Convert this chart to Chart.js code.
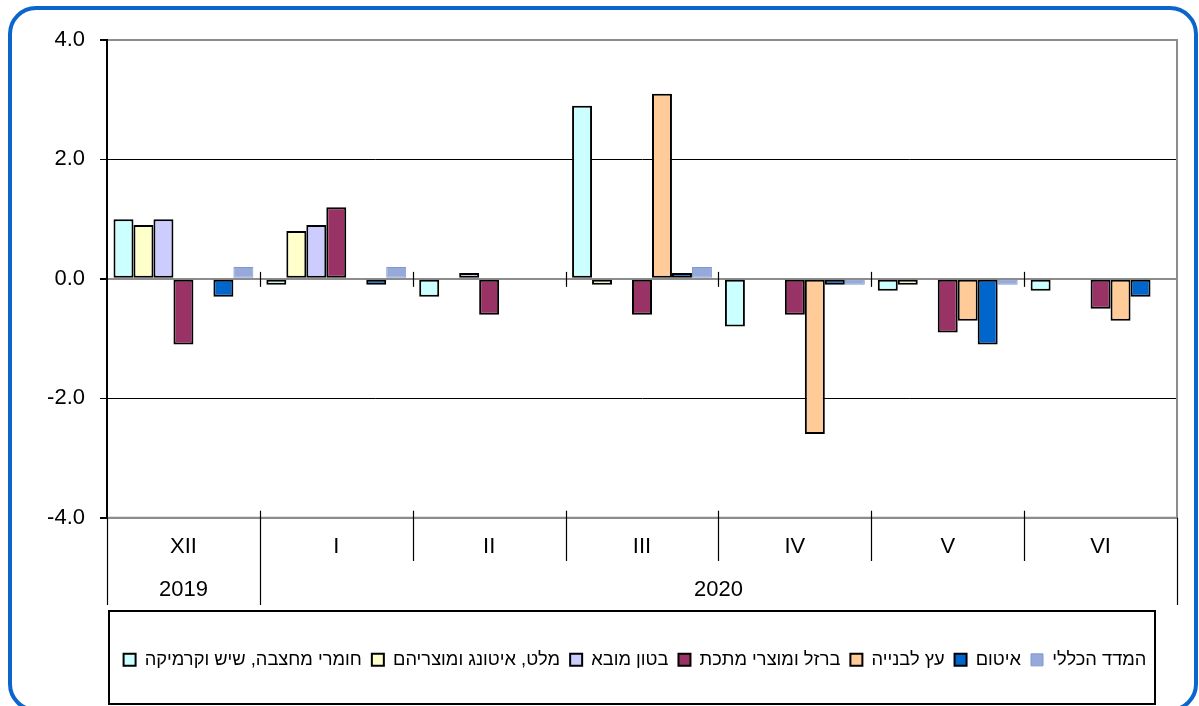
<!DOCTYPE html>
<html>
<head>
<meta charset="utf-8">
<script src="https://cdn.jsdelivr.net/npm/chart.js@4/dist/chart.umd.min.js"></script>
<style>
  html, body { margin: 0; padding: 0; background: #fff; }
  #wrap { width: 1199px; height: 706px; }
</style>
</head>
<body>
<div id="wrap"><canvas id="barChart" width="1199" height="706"></canvas></div>
<script>
// months and years on the category axis
const months = ["XII", "I", "II", "III", "IV", "V", "VI"];
const years = ["2019", "2020"];
const yearSpans = [1, 6];

const seriesNames = [
    "חומרי מחצבה, שיש וקרמיקה",
    "מלט, איטונג ומוצריהם",
    "בטון מובא",
    "ברזל ומוצרי מתכת",
    "עץ לבנייה",
    "איטום",
    "המדד הכללי"
];

// monthly change, percent
const quarry   = [1.0, -0.1, -0.3, 2.9, -0.8, -0.2, -0.2];
const cement   = [0.9, 0.8, 0, -0.1, 0, -0.1, 0];
const concrete = [1.0, 0.9, 0.1, 0, 0, 0, 0];
const iron     = [-1.1, 1.2, -0.6, -0.6, -0.6, -0.9, -0.5];
const wood     = [null, null, null, 3.1, -2.6, -0.7, -0.7];
const sealing  = [-0.3, -0.1, 0, 0.1, -0.1, -1.1, -0.3];
const general  = [0.2, 0.2, 0, 0.2, -0.1, -0.1, 0];

const yTicks = [-4, -2, 0, 2, 4];

const fills = ["#ccffff", "#ffffcc", "#ccccff", "#993366", "#ffcc99", "#0066cc", "#97a9d8"];
const values = [quarry, cement, concrete, iron, wood, sealing, general];

const FONT = "'Liberation Sans', Arial, sans-serif";

const datasets = values.map((v, i) => ({
    label: seriesNames[i],
    data: v,
    backgroundColor: fills[i],
    borderColor: i === 6 ? "#7b9ad3" : "#000000",
    borderWidth: i === 6 ? 1 : 2,
    borderSkipped: false,
    categoryPercentage: 0.915,
    barPercentage: 1.0
}));

// frame, separators, year row, legend box
const decor = {
    id: "decor",
    afterLayout(chart) {
        // centre the legend row under the plot like the original
        const lg = chart.legend;
        const d = 635 - (lg.left + lg.right) / 2;
        lg.left += d;
        lg.right += d;
    },
    beforeDraw(chart) {
        const c = chart.ctx;
        c.save();
        c.fillStyle = "#fff";
        c.fillRect(0, 0, chart.width, chart.height);
        c.strokeStyle = "#0a66cc";
        c.lineWidth = 4;
        c.beginPath();
        c.roundRect(10, 8, 1186, 702, 26);
        c.stroke();
        c.restore();
    },
    afterDatasetsDraw(chart) {
        const c = chart.ctx;
        const a = chart.chartArea;
        const y = chart.scales.y;
        const step = (a.right - a.left) / months.length;
        const y0 = y.getPixelForValue(0);
        c.save();
        // plot border
        c.strokeStyle = "#8c8c8c";
        c.lineWidth = 2;
        c.beginPath();
        c.moveTo(a.left, a.top);
        c.lineTo(a.right, a.top);
        c.lineTo(a.right, a.bottom);
        c.lineTo(a.left, a.bottom);
        c.stroke();
        // y axis line
        c.strokeStyle = "#000";
        c.beginPath();
        c.moveTo(a.left, a.top - 1);
        c.lineTo(a.left, a.bottom);
        c.stroke();
        // ticks crossing zero line and separators under the plot
        c.lineWidth = 1.2;
        const yearEdges = [0];
        let acc = 0;
        yearSpans.forEach(s => { acc += s; yearEdges.push(acc); });
        for (let i = 0; i <= months.length; i++) {
            const px = Math.round(a.left + step * i) + 0.5;
            if (i > 0 && i < months.length) {
                c.beginPath();
                c.moveTo(px, y0 - 7);
                c.lineTo(px, y0 + 8);
                c.stroke();
            }
            const isYear = yearEdges.includes(i);
            c.beginPath();
            c.moveTo(px, i === 0 || i === months.length ? a.bottom : a.bottom - 7);
            c.lineTo(px, isYear ? 605 : 561);
            c.stroke();
        }
        // year labels
        c.fillStyle = "#000";
        c.font = "22px " + FONT;
        c.textAlign = "center";
        c.textBaseline = "middle";
        let start = 0;
        years.forEach((yr, i) => {
            const l = a.left + step * start;
            const r = a.left + step * (start + yearSpans[i]);
            c.fillText(yr, (l + r) / 2, 590);
            start += yearSpans[i];
        });
        // legend frame
        c.strokeStyle = "#000";
        c.lineWidth = 2;
        c.strokeRect(109, 611, 1046, 93);
        c.restore();
    }
};

const ctx = document.getElementById("barChart").getContext("2d");
new Chart(ctx, {
    type: "bar",
    data: { labels: months, datasets: datasets },
    plugins: [decor],
    options: {
        responsive: false,
        animation: false,
        layout: { padding: { top: 40, left: 30, right: 22, bottom: 27 } },
        plugins: {
            legend: {
                position: "bottom",
                labels: {
                    color: "#000",
                    font: { family: FONT, size: 18.3 },
                    boxWidth: 12,
                    boxHeight: 12,
                    padding: 10
                }
            },
            tooltip: { enabled: false }
        },
        scales: {
            x: {
                afterFit(scale) { scale.height = 123; },
                grid: { display: false, drawTicks: false },
                border: { display: false },
                ticks: {
                    color: "#000",
                    font: { family: FONT, size: 22 },
                    padding: 16,
                    maxRotation: 0,
                    autoSkip: false
                }
            },
            y: {
                min: -4,
                max: 4,
                afterFit(scale) { scale.width = 77; },
                afterBuildTicks(scale) { scale.ticks = yTicks.map(v => ({ value: v })); },
                border: { display: true, color: "#000", width: 2 },
                grid: {
                    color: c => (c.tick && Math.abs(c.tick.value) === 2) ? "#000" : "#8c8c8c",
                    lineWidth: c => (c.tick && Math.abs(c.tick.value) === 2) ? 1 : 2,
                    tickColor: "#000",
                    tickLength: 7,
                    drawTicks: true
                },
                ticks: {
                    color: "#000",
                    font: { family: FONT, size: 22 },
                    padding: 15,
                    callback: v => v.toFixed(1)
                }
            }
        }
    }
});
</script>
</body>
</html>
